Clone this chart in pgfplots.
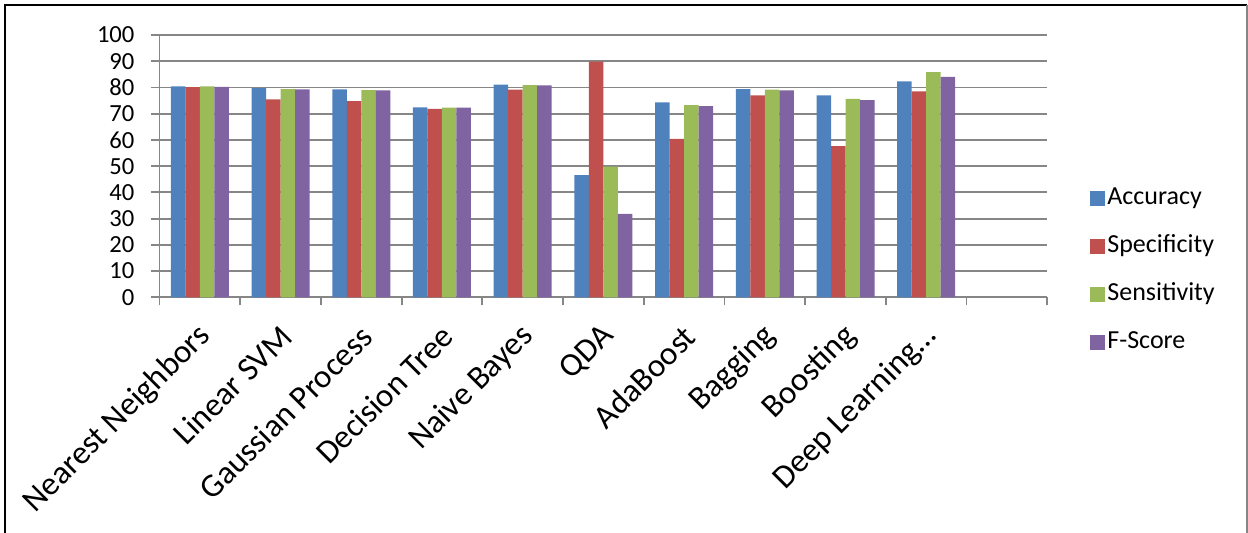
\documentclass[border=0pt]{standalone}
\usepackage{pgfplots}
\pgfplotsset{compat=1.18}
\usepackage{fontspec}
\setmainfont{Carlito}

\definecolor{accblue}{RGB}{79,129,189}
\definecolor{specred}{RGB}{192,80,77}
\definecolor{sensgreen}{RGB}{155,187,89}
\definecolor{fpurple}{RGB}{128,100,162}
\definecolor{gridc}{RGB}{134,134,134}

% scores per classifier (index 0..9; slot 10 is left empty)
\pgfplotstableread{
x  acc   spec  sens  fs
0  80.4  80.1  80.4  80.2
1  79.7  75.5  79.4  79.3
2  79.3  74.8  79.0  78.9
3  72.4  71.8  72.3  72.3
4  81.1  79.2  80.9  80.8
5  46.6  89.8  49.8  31.8
6  74.3  60.4  73.3  72.9
7  79.4  77.0  79.2  78.9
8  77.0  57.6  75.6  75.2
9  82.3  78.5  85.8  84.0
}\scores

\begin{document}
\begin{tikzpicture}
\useasboundingbox (0,0) rectangle (624pt,266.5pt);
\begin{axis}[
  at={(79.75pt,117.85pt)}, anchor=south west,
  scale only axis, width=443.9pt, height=131.15pt,
  xmin=-0.5, xmax=10.5,
  ymin=0, ymax=100,
  ytick={0,10,...,100},
  xtick={-0.5,0.5,...,10.5},
  xticklabels={},
  extra x ticks={0,1,...,10},
  extra x tick labels={Nearest Neighbors, Linear SVM, Gaussian Process, Decision Tree, Naive Bayes, QDA, AdaBoost, Bagging, Boosting, Deep Learning…, {}},
  extra x tick style={major tick length=0pt, grid=none,
    xticklabel style={rotate=45, anchor=east, xshift=-6.5pt, yshift=-14pt,
      font=\fontsize{16.5}{18}\selectfont}},
  ybar=0pt, bar width=7.25pt,
  axis lines*=left,
  axis line style={draw=gridc, line width=0.9pt, -},
  tick pos=left, tick align=outside,
  major tick length=4pt,
  tick style={draw=gridc, line width=0.9pt},
  ymajorgrids=true,
  grid style={draw=gridc, line width=0.9pt},
  yticklabel style={font=\fontsize{12.3}{14}\selectfont, xshift=-5pt},
  /pgf/number format/assume math mode=true,
  every axis plot post/.append style={
    legend image code/.code={\fill[##1] (0pt,-3.75pt) rectangle (7.5pt,3.75pt);}},
  legend style={at={(1.0481,0.1012)}, anchor=west, draw=none, fill=none,
    inner sep=0pt, row sep=10pt,
    font=\fontsize{13}{15}\selectfont,
    nodes={text height=9pt, text depth=3pt, inner sep=1pt}},
  legend cell align=left,
]
\addplot[fill=accblue, draw=none] table[x=x, y=acc] {\scores};
\addplot[fill=specred, draw=none] table[x=x, y=spec] {\scores};
\addplot[fill=sensgreen, draw=none] table[x=x, y=sens] {\scores};
\addplot[fill=fpurple, draw=none] table[x=x, y=fs] {\scores};
\legend{Accuracy, Specificity, Sensitivity, F-Score}
\end{axis}
% chart frame
\draw[black, line width=1pt] (2.5pt,0pt) -- (2.5pt,264pt) -- (623.5pt,264pt);
\draw[gridc, line width=0.6pt] (623.5pt,264pt) -- (623.5pt,0pt);
\end{tikzpicture}
\end{document}
